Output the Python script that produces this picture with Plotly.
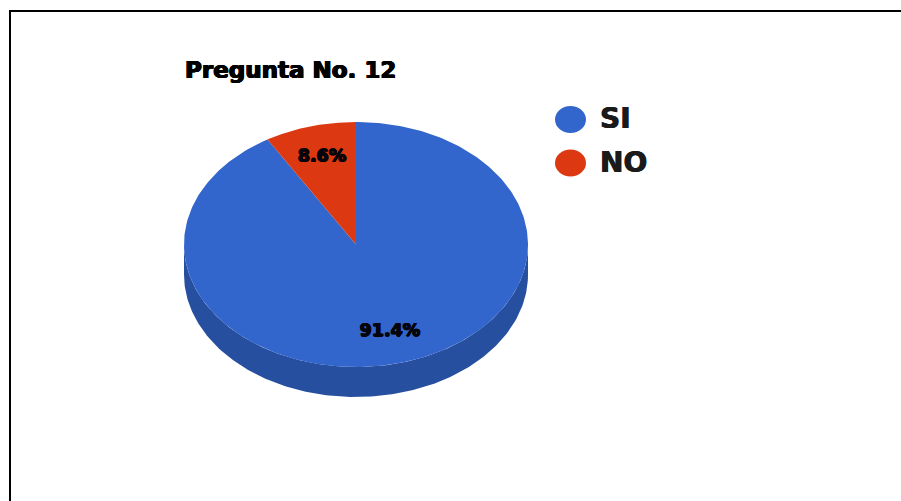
import numpy as np
import plotly.graph_objects as go

categories = ["SI", "NO"]
values = [91.4, 8.6]
colors = ["#3366CC", "#DC3912"]
side_colors = ["#264F9F", "#A32A0D"]
title_text = "Pregunta No. 12"

W, H = 901, 501
CX, CY, RX, RY, DEPTH = 356, 244.5, 172, 122.5, 30  # pixel layout of the pie
LABEL_R = 0.74
FONT = "DejaVu Sans"
HEAVY = "0.7px 0 0 #000, -0.7px 0 0 #000, 0 0.4px 0.5px #000, 0 -0.4px 0.5px #000"
HEAVY_SOFT = "0.5px 0 0.6px #222, -0.5px 0 0.6px #222"


def point(a, r=1.0):
    return r * np.sin(a), r * np.cos(a)


fig = go.Figure()
depth = DEPTH / RY
fractions = np.array(values) / sum(values)
starts = np.concatenate([[0], np.cumsum(fractions)[:-1]]) * 2 * np.pi
ends = starts + fractions * 2 * np.pi

# extruded side: only the part of each slice on the lower half of the disc
for cat, a0, a1, col in zip(categories, starts, ends, side_colors):
    lo, hi = max(a0, np.pi / 2), min(a1, 3 * np.pi / 2)
    if hi > lo:
        t = np.linspace(lo, hi, 181)
        x, y = point(t)
        fig.add_trace(go.Scatter(
            x=np.r_[x, x[::-1]], y=np.r_[y, y[::-1] - depth],
            mode="lines", fill="toself", fillcolor=col, line=dict(width=0, color=col),
            hoverinfo="skip", showlegend=False))

# top face
for cat, a0, a1, col in zip(categories, starts, ends, colors):
    t = np.linspace(a0, a1, 361)
    x, y = point(t)
    fig.add_trace(go.Scatter(
        x=np.r_[0, x, 0], y=np.r_[0, y, 0], name=cat,
        mode="lines", fill="toself", fillcolor=col, line=dict(width=0, color=col),
        hoverinfo="name", showlegend=False))

# percentage labels
mid = (starts + ends) / 2
lx, ly = point(mid, LABEL_R)
fig.add_trace(go.Scatter(
    x=lx, y=ly, mode="text", text=[f"{v:.1f}%" for v in values],
    textposition="middle center",
    textfont=dict(family=FONT, size=17.5, color="#050510", weight="bold", shadow=HEAVY),
    hoverinfo="skip", showlegend=False))

# legend swatches and frame
shapes = [
    dict(type="line", xref="paper", yref="paper", x0=10 / W, x1=1, y0=1 - 11 / H, y1=1 - 11 / H,
         line=dict(color="#000000", width=2)),
    dict(type="line", xref="paper", yref="paper", x0=10 / W, x1=10 / W, y0=0, y1=1 - 10 / H,
         line=dict(color="#000000", width=2)),
]
annotations = [dict(
    text=title_text, xref="paper", yref="paper", x=182.5 / W, y=1 - 69.5 / H,
    xanchor="left", yanchor="middle", showarrow=False,
    font=dict(family=FONT, size=23, color="#000000", weight="bold", shadow=HEAVY))]
for i, (cat, col) in enumerate(zip(categories, colors)):
    yc = 119.5 + 43.5 * i
    shapes.append(dict(type="circle", xref="paper", yref="paper",
                       x0=555 / W, x1=586 / W, y0=1 - (yc + 13.5) / H, y1=1 - (yc - 13.5) / H,
                       fillcolor=col, line=dict(width=0)))
    annotations.append(dict(
        text=cat, xref="paper", yref="paper", x=598 / W, y=1 - (yc - 1) / H,
        xanchor="left", yanchor="middle", showarrow=False,
        font=dict(family=FONT, size=28, color="#1a1a1a", weight="bold", shadow=HEAVY_SOFT)))

fig.update_layout(
    width=W, height=H, margin=dict(l=0, r=0, t=0, b=0),
    paper_bgcolor="white", plot_bgcolor="white", showlegend=False,
    xaxis=dict(range=[-CX / RX, (W - CX) / RX], visible=False, fixedrange=True),
    yaxis=dict(range=[-(H - CY) / RY, CY / RY], visible=False, fixedrange=True),
    shapes=shapes, annotations=annotations,
)
fig.write_html("out.html", config={"displayModeBar": False},
               post_script="document.body.style.margin='0';document.body.style.overflow='hidden';")
